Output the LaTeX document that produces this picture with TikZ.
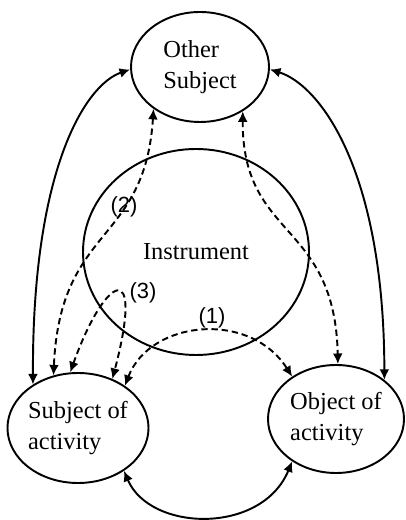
\documentclass[tikz,border=0pt]{standalone}
\usepackage{fontspec}
\setmainfont{Liberation Serif}
\newfontfamily\labelfont{Liberation Sans}
\usetikzlibrary{
  shapes.geometric,      % Ellipse nodes
  arrows.meta            % Latex tips
}

\begin{document}
\begin{tikzpicture}[
    part/.style={ellipse, draw, line width=1.1pt, inner sep=0pt, align=left,
      font=\fontsize{13.9}{17.5}\selectfont},
    link/.style={{Latex[length=6pt, width=5.6pt]}-{Latex[length=6pt, width=5.6pt]}, line width=1.1pt},
    dlink/.style={link, dash pattern=on 3.6pt off 2.2pt},
    num/.style={font=\labelfont\fontsize{12.5}{14}\selectfont, inner sep=0pt}
  ]
        \useasboundingbox (0,0) rectangle (8.1,10.4);

        % Ellipses
        \node[part, minimum width=2.76cm, minimum height=2.2cm] (other) at (4.00,9.06) {Other\\Subject};
        \node[part, minimum width=4.52cm, minimum height=4.12cm] (instr) at (3.92,5.36) {Instrument};
        \node[part, minimum width=2.76cm, minimum height=2.2cm] (subj) at (1.56,1.84) {Subject of\\activity};
        \node[part, minimum width=2.72cm, minimum height=2.16cm] (obj) at (6.72,2.02) {Object of\\activity};

        % Outer solid links
        \draw[link] (subj.136) .. controls (0.64,7.00) and (1.70,8.70) .. (other.182);
        \draw[link] (other.-2) .. controls (6.40,8.70) and (7.68,7.00) .. (obj.39);
        \draw[link] (subj.317) .. controls (3.00,-0.24) and (5.24,-0.30) .. (obj.224);

        % Dashed links through the instrument
        \draw[dlink] (other.222) .. controls (2.90,5.50) and (1.20,5.90) .. (subj.115);
        \draw[dlink] (other.314) .. controls (4.84,5.60) and (6.70,6.00) .. (obj.88);
        \draw[dlink] (subj.42) .. controls (3.00,4.00) and (5.00,4.20) .. (obj.136);
        \draw[dlink] (subj.98) .. controls (2.10,4.90) and (2.90,5.30) .. (subj.55);

        % Numbers
        \node[num] (n1) at (4.24,4.04) {(1)};
        \node[num] (n2) at (2.48,6.26) {(2)};
        \node[num] (n3) at (2.86,4.54) {(3)};
\end{tikzpicture}
\end{document}
